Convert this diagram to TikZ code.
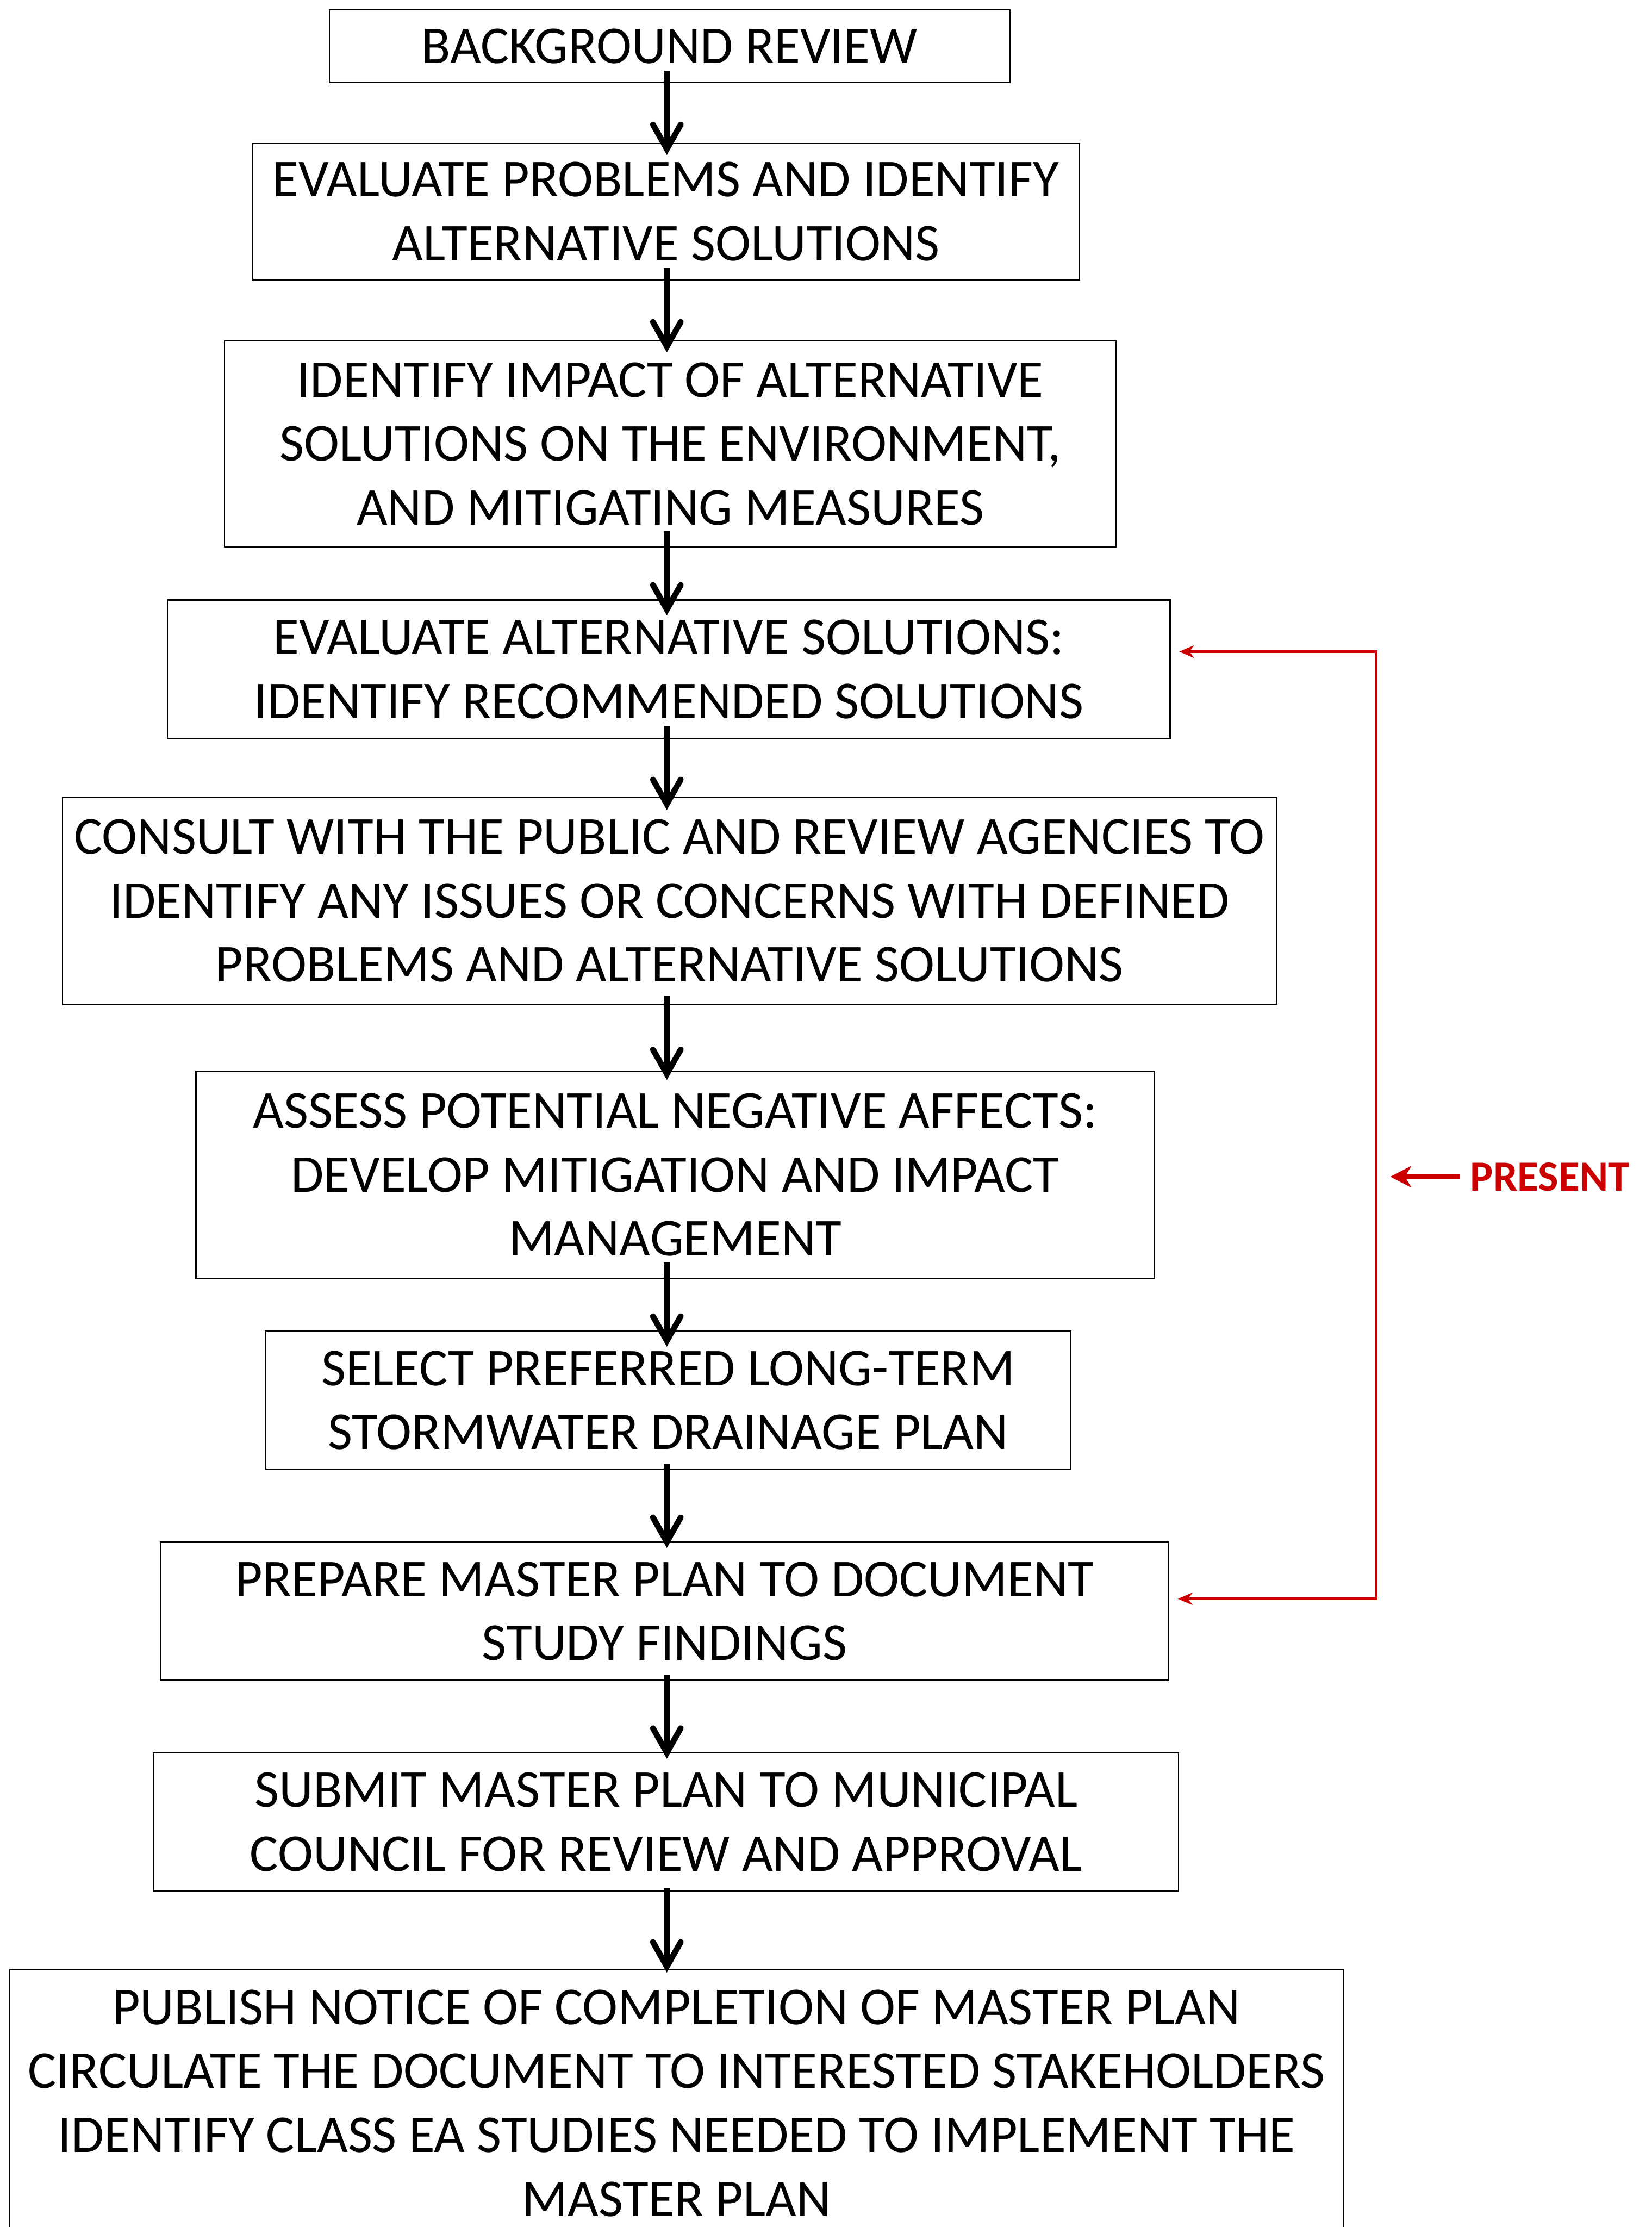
\documentclass[tikz,border=0pt]{standalone}
\usepackage{fontspec}
\setmainfont{Carlito}
\usepackage{tikz}
\usetikzlibrary{calc,arrows.meta}
\definecolor{redx}{HTML}{CC0000}
\def\unitpx{0.01528cm}
\tikzset{
  box/.style={draw=black,line width=0.4pt,align=center,inner sep=0pt,font=\fontsize{16.3pt}{19.56pt}\selectfont},
  ar/.style={-{Straight Barb[length=7.5pt,width=8.5pt,line cap=round]},line width=1.8pt},
  redar/.style={{Stealth[length=4.5pt,width=3.8pt]}-{Stealth[length=4.5pt,width=3.8pt]},redx,line width=0.9pt,shorten <=2.6pt,shorten >=2.6pt},
  presar/.style={-{Stealth[length=6.4pt,width=6.5pt,inset=1.9pt]},redx,line width=1.4pt}
}

\begin{document}
\begin{tikzpicture}[x=\unitpx,y=-\unitpx]
\useasboundingbox (0,0) rectangle (1163,1568);
\coordinate (spine) at (469.6,0);
% steps
\node[box,minimum width=479*\unitpx,minimum height=51*\unitpx] (b1) at (471.5,32.5) {BACKGROUND REVIEW};
\node[box,minimum width=582*\unitpx,minimum height=96*\unitpx] (b2) at (469,149) {EVALUATE PROBLEMS AND IDENTIFY\\ALTERNATIVE SOLUTIONS};
\node[box,minimum width=628*\unitpx,minimum height=145*\unitpx] (b3) at (472,312.5) {IDENTIFY IMPACT OF ALTERNATIVE\\SOLUTIONS ON THE ENVIRONMENT,\\AND MITIGATING MEASURES};
\node[box,minimum width=706*\unitpx,minimum height=97.6*\unitpx] (b4) at (471,471.2) {EVALUATE ALTERNATIVE SOLUTIONS:\\IDENTIFY RECOMMENDED SOLUTIONS};
\node[box,minimum width=855*\unitpx,minimum height=145.8*\unitpx] (b5) at (471.5,634.3) {CONSULT WITH THE PUBLIC AND REVIEW AGENCIES TO\\IDENTIFY ANY ISSUES OR CONCERNS WITH DEFINED\\PROBLEMS AND ALTERNATIVE SOLUTIONS};
\node[box,minimum width=675*\unitpx,minimum height=145.6*\unitpx] (b6) at (475.5,827.1) {ASSESS POTENTIAL NEGATIVE AFFECTS:\\DEVELOP MITIGATION AND IMPACT\\MANAGEMENT};
\node[box,minimum width=567*\unitpx,minimum height=97.4*\unitpx] (b7) at (470.5,985.9) {SELECT PREFERRED LONG-TERM\\STORMWATER DRAINAGE PLAN};
\node[box,minimum width=710*\unitpx,minimum height=97.2*\unitpx] (b8) at (468,1134.4) {PREPARE MASTER PLAN TO DOCUMENT\\STUDY FINDINGS};
\node[box,minimum width=722*\unitpx,minimum height=97.3*\unitpx] (b9) at (469,1282.9) {SUBMIT MASTER PLAN TO MUNICIPAL\\COUNCIL FOR REVIEW AND APPROVAL};
\node[box,minimum width=939*\unitpx,minimum height=188*\unitpx] (b10) at (476.5,1480.8) {PUBLISH NOTICE OF COMPLETION OF MASTER PLAN\\CIRCULATE THE DOCUMENT TO INTERESTED STAKEHOLDERS\\IDENTIFY CLASS EA STUDIES NEEDED TO IMPLEMENT THE\\MASTER PLAN};
% main flow
\foreach \a/\b in {b1/b2,b2/b3,b3/b4,b4/b5,b5/b6,b6/b7,b7/b8,b8/b9,b9/b10}
  \draw[ar] ($(\a.south -| spine)!.5!(\b.north -| spine)$) ++(0,-29.65) -- ++(0,59.3);
% present loop
\coordinate (rtop) at (969,458.8);
\coordinate (rbot) at (969,1125.7);
\draw[redar] (rtop -| b4.east) -- (rtop) -- (rbot) -- (rbot -| b8.east);
\node[anchor=west,inner sep=0pt,text=redx,font=\bfseries\fontsize{13.2pt}{16pt}\selectfont] (present) at (1035,828.5) {PRESENT};
\draw[presar,shorten <=3pt,shorten >=4.35pt] (present.west) -- (present.west -| rtop);
\end{tikzpicture}
\end{document}
